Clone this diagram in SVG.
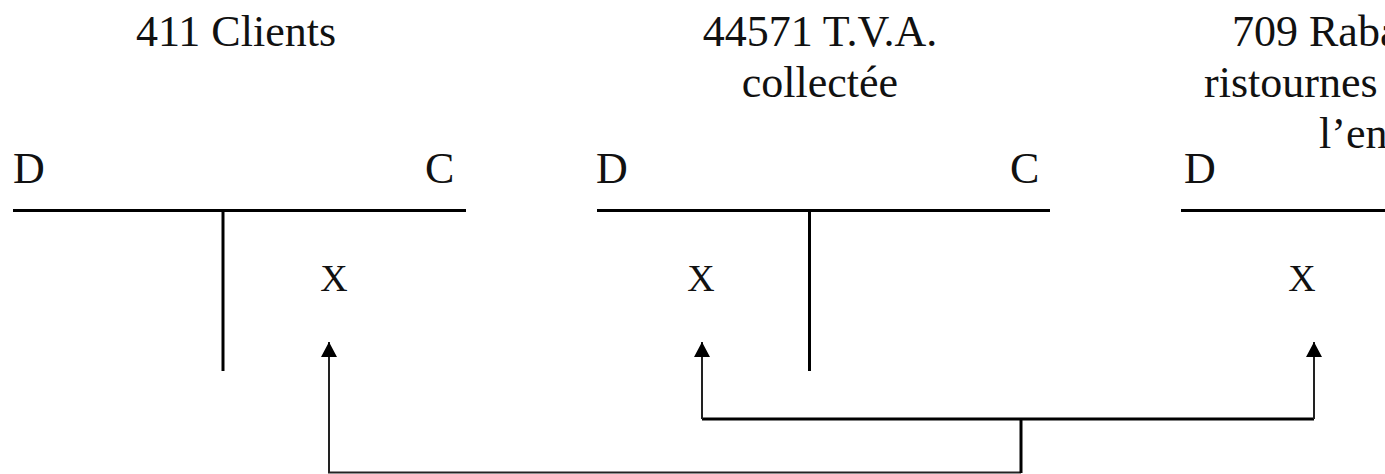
<svg xmlns="http://www.w3.org/2000/svg" width="1385" height="474" viewBox="0 0 1385 474">
  <style>
    text { font-family: "Liberation Serif", "Times New Roman", serif; fill: #111; }
    .title { font-size: 44px; text-anchor: middle; }
    .side { font-size: 44px; }
    .mark { font-size: 38px; text-anchor: middle; }
    .rule { stroke: #000; stroke-width: 3; fill: none; }
    .thin { stroke: #222; stroke-width: 2; fill: none; }
    .thick { stroke: #000; stroke-width: 3; fill: none; }
  </style>
  <defs>
    <marker id="head" viewBox="0 0 15 16" refX="15" refY="8" markerWidth="15" markerHeight="16" markerUnits="userSpaceOnUse" orient="auto">
      <path d="M0,0 L15,8 L0,16 Z" fill="#000"/>
    </marker>
  </defs>
  <rect width="1385" height="474" fill="#fff"/>

  <!-- T-account 411 Clients -->
  <g id="account-411">
    <text class="title" x="236" y="46">411 Clients</text>
    <text class="side" x="13" y="183">D</text>
    <text class="side" x="425" y="183">C</text>
    <line class="rule" x1="13" y1="210.5" x2="466" y2="210.5"/>
    <line class="rule" x1="223" y1="210" x2="223" y2="371"/>
    <text class="mark" x="334" y="291">X</text>
  </g>

  <!-- T-account 44571 T.V.A. collectée -->
  <g id="account-44571">
    <text class="title" x="820" y="46">44571 T.V.A.</text>
    <text class="title" x="820" y="97">collectée</text>
    <text class="side" x="596" y="183">D</text>
    <text class="side" x="1010" y="183">C</text>
    <line class="rule" x1="597" y1="210.5" x2="1050" y2="210.5"/>
    <line class="rule" x1="809.5" y1="210" x2="809.5" y2="371"/>
    <text class="mark" x="701" y="291">X</text>
  </g>

  <!-- T-account 709 (cut at the right edge) -->
  <g id="account-709">
    <text class="side" x="1232" y="46">709 Raba</text>
    <text class="side" x="1204" y="97">ristournes</text>
    <text class="side" x="1319" y="148">l’ent</text>
    <text class="side" x="1184" y="183">D</text>
    <line class="rule" x1="1181" y1="210.5" x2="1385" y2="210.5"/>
    <text class="mark" x="1302" y="291">X</text>
  </g>

  <!-- Connectors -->
  <g id="connectors">
    <path class="thin" d="M1021,472.5 H329 V342" marker-end="url(#head)"/>
    <line class="thick" x1="1021" y1="419" x2="1021" y2="473"/>
    <line class="thick" x1="702" y1="419" x2="1314" y2="419"/>
    <path class="thin" d="M702,419 V342" marker-end="url(#head)"/>
    <path class="thin" d="M1314,419 V342" marker-end="url(#head)"/>
  </g>
</svg>
